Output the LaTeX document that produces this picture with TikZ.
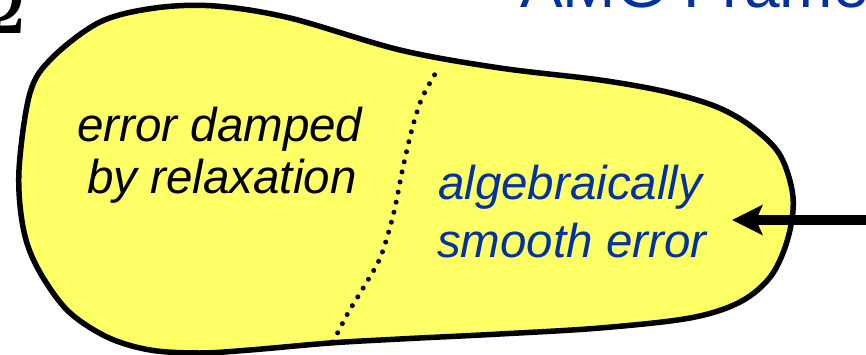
\documentclass[tikz,border=0pt]{standalone}
\usepackage{fontspec}
\setmainfont{Liberation Sans}
\newfontfamily\serifomega{Liberation Serif}
\usetikzlibrary{arrows.meta}
\definecolor{blobyellow}{HTML}{FFFF66}
\definecolor{amgblue}{HTML}{0033A0}
\tikzset{
  blobline/.style={line width=5.5pt, fill=blobyellow, line join=round},
  divider/.style={line width=5pt, line cap=round, dash pattern=on 0pt off 10.3pt},
  bigarrow/.style={line width=10pt, -{Stealth[length=31pt,width=31pt,inset=7pt,line width=0pt]}},
  bodytext/.style={anchor=base west, inner sep=0pt, font=\itshape\fontsize{47.5}{57}\selectfont},
}
\begin{document}
\begin{tikzpicture}[x=1pt,y=-1pt]
\useasboundingbox (0,0) rectangle (866,355);
\clip (0,0) rectangle (866,355);
% blob
\draw[blobline] plot[smooth cycle, tension=0.55] coordinates {
  (19,170) (30,93) (52,58) (100,22) (155,8) (215,6) (290,18) (400,50)
  (500,68) (600,80) (667,92) (717,107) (752,127) (780,155) (793,197)
  (788,238) (771,276) (740,302) (690,318) (600,328) (500,334) (400,339)
  (330,343) (250,350) (200,353) (150,350) (107,337) (67,310) (37,267) (23,227)};
% dotted divider
\draw[divider] plot[smooth] coordinates {(333,342) (348,313) (365,285) (381,256) (394,212) (402,172) (412,129) (422,98) (438,69)};
% texts
\node[bodytext] (t1) at (77,142) {error damped};
\node[bodytext] (t2) at (87,194) {by relaxation};
\node[bodytext, text=amgblue] (t3) at (438,200) {algebraically};
\node[bodytext, text=amgblue] (t4) at (437,257) {smooth error};
% arrow
\coordinate (arrowstart) at (890,220);
\coordinate (arrowtip) at (732,220);
\draw[bigarrow] (arrowstart) -- (arrowtip);
% title and partial glyph
\node[anchor=base west, inner sep=0pt, text=amgblue, font=\fontsize{64}{70}\selectfont] (title) at (520,8) {AMG Framework};
\node[anchor=base east, inner sep=0pt, font=\serifomega\fontsize{90}{90}\selectfont] (omega) at (27,34) {Ω};
\end{tikzpicture}
\end{document}
